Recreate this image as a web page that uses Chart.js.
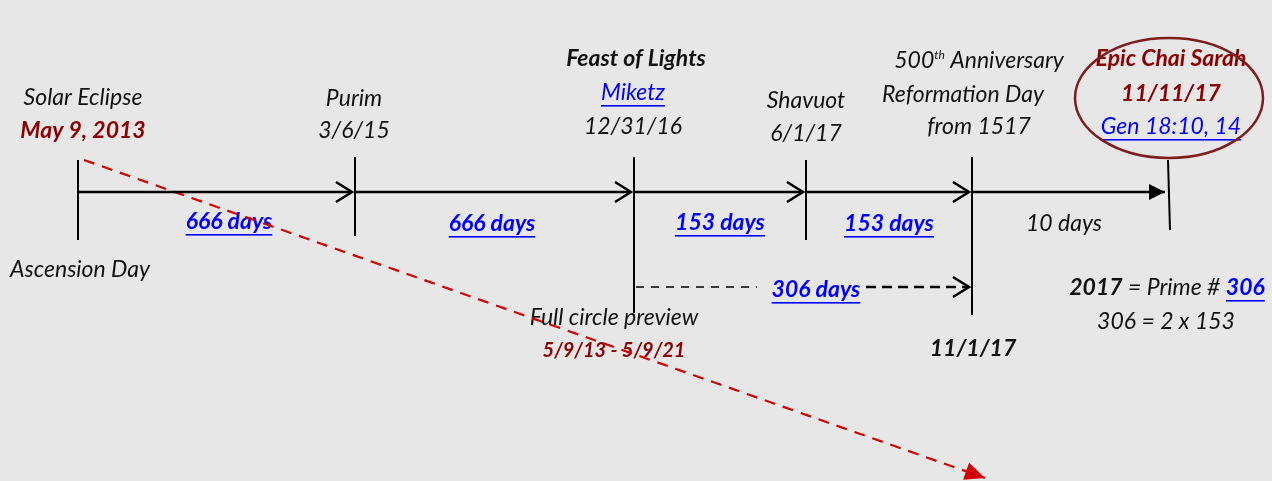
<!DOCTYPE html>
<html>
<head>
<meta charset="utf-8">
<script src="https://cdn.jsdelivr.net/npm/chart.js@4.4.1/dist/chart.umd.min.js"></script>
<style>
  html, body { margin: 0; padding: 0; background: #e7e7e7; }
  #wrap { width: 1272px; height: 481px; }
</style>
</head>
<body>
<div id="wrap"><canvas id="timeline"></canvas></div>
<script>
// events along the timeline, left to right
const eventNames = ['Ascension Day', 'Purim', 'Feast of Lights', 'Shavuot', 'Reformation Day', 'Epic Chai Sarah'];
const eventDates = ['May 9, 2013', '3/6/15', '12/31/16', '6/1/17', '11/1/17', '11/11/17'];
const eventPos = [78, 355, 634, 806, 972, 1168];
const tickTop = [160, 157, 157, 160, 157, 160];
const tickBottom = [240, 236, 313, 240, 315, 230];
const axisY = 192;

// gaps between events
const gapLabels = ['666 days', '666 days', '153 days', '153 days', '10 days'];
const gapLinked = [true, true, true, true, false];

// 12/31/16 -> 11/1/17 span
const spanLabel = '306 days';
const spanY = 287;

// eclipse path (start / end)
const eclipseFrom = {x: 84, y: 160};
const eclipseTo = {x: 985, y: 478};

const RED = '#8b0000';
const BLUE = '#0000ff';
const FONT = 'Lato, "Open Sans", sans-serif';
const SIZE = 23;

// text runs: [text, style]  n=italic, b=bold italic, r=dark red bold, l=link, L=bold link, s=superscript
const labels = [
  {x: 83, y: 98, runs: [['Solar Eclipse', 'n']]},
  {x: 83, y: 131, runs: [[eventDates[0], 'r']]},
  {x: 80, y: 270, runs: [[eventNames[0], 'n']]},
  {x: 354, y: 99, runs: [[eventNames[1], 'n']]},
  {x: 354, y: 131, runs: [[eventDates[1], 'n']]},
  {x: 636, y: 59, runs: [[eventNames[2], 'b']]},
  {x: 633, y: 93, runs: [['Miketz', 'l']]},
  {x: 633, y: 127, runs: [[eventDates[2], 'n']]},
  {x: 806, y: 101, runs: [[eventNames[3], 'n']]},
  {x: 806, y: 134, runs: [[eventDates[3], 'n']]},
  {x: 979, y: 61, runs: [['500', 'n'], ['th', 's'], [' Anniversary', 'n']]},
  {x: 963, y: 95, runs: [[eventNames[4], 'n']]},
  {x: 979, y: 127, runs: [['from 1517', 'n']]},
  {x: 973, y: 349, runs: [[eventDates[4], 'b']]},
  {x: 1171, y: 59, runs: [[eventNames[5], 'r']]},
  {x: 1171, y: 94, runs: [[eventDates[5], 'r']]},
  {x: 1171, y: 127, runs: [['Gen 18:10, 14', 'l']]},
  {x: 1167, y: 288, runs: [['2017', 'b'], [' = Prime # ', 'n'], ['306', 'L']]},
  {x: 1166, y: 322, runs: [['306 = 2 x 153', 'n']]},
  {x: 614, y: 318, runs: [['Full circle preview', 'n']]},
  {x: 614, y: 351, runs: [['5/9/13 - 5/9/21', 'r', 20]]},
  {x: 816, y: 290, runs: [[spanLabel, 'L']]}
];
const gapLabelPos = [[229, 222], [492, 224], [720, 223], [889, 224], [1064, 224]];

function runFont(style, size) {
  const bold = style === 'b' || style === 'r' || style === 'L';
  const sz = style === 's' ? 12 : (size || SIZE);
  return 'italic ' + (bold ? 'bold ' : '') + sz + 'px ' + FONT;
}
function runColor(style) {
  if (style === 'r') return RED;
  if (style === 'l' || style === 'L') return BLUE;
  return '#111';
}

function drawLabel(ctx, xs, ys, lab) {
  const cx = xs.getPixelForValue(lab.x), cy = ys.getPixelForValue(lab.y);
  let total = 0;
  lab.runs.forEach(r => { ctx.font = runFont(r[1], r[2]); total += ctx.measureText(r[0]).width; });
  let px = cx - total / 2;
  ctx.textBaseline = 'middle';
  ctx.textAlign = 'left';
  lab.runs.forEach(r => {
    ctx.font = runFont(r[1], r[2]);
    ctx.fillStyle = runColor(r[1]);
    const w = ctx.measureText(r[0]).width;
    ctx.fillText(r[0], px, r[1] === 's' ? cy - 6 : cy);
    if (r[1] === 'l' || r[1] === 'L') {
      ctx.fillRect(px, cy + 12, w, 1.6);
    }
    px += w;
  });
}

const datasets = [];
const seg = (pts, extra) => Object.assign({
  type: 'line', data: pts, borderColor: '#000', borderWidth: 2,
  pointRadius: 0, showLine: true, fill: false, tension: 0
}, extra || {});

// event ticks
eventPos.forEach((p, i) => {
  datasets.push(seg([{x: p, y: tickTop[i]}, {x: i === 5 ? p + 2 : p, y: tickBottom[i]}]));
});
// arrows between events
for (let i = 0; i < eventPos.length - 1; i++) {
  datasets.push(seg([{x: eventPos[i] + 1, y: axisY}, {x: eventPos[i + 1] - 3, y: axisY}],
    {head: i === eventPos.length - 2 ? 'filled' : 'open', borderWidth: 2.5}));
}
// 306 days dashed span
datasets.push(seg([{x: eventPos[2] + 2, y: spanY}, {x: 757, y: spanY}], {borderDash: [8, 7], borderWidth: 1.5}));
datasets.push(seg([{x: 866, y: spanY}, {x: eventPos[4] - 3, y: spanY}], {borderDash: [10, 6], borderWidth: 2.5, head: 'open'}));
// eclipse path
datasets.push(seg([eclipseFrom, eclipseTo], {borderColor: '#d40000', borderDash: [11, 8], borderWidth: 2.2, head: 'filled', headSize: [20, 9]}));

const annotate = {
  id: 'annotate',
  beforeDatasetsDraw(chart) {
    const {ctx, scales: {x, y}} = chart;
    ctx.save();
    labels.forEach(l => drawLabel(ctx, x, y, l));
    gapLabels.forEach((g, i) => {
      drawLabel(ctx, x, y, {x: gapLabelPos[i][0], y: gapLabelPos[i][1], runs: [[g, gapLinked[i] ? 'L' : 'n']]});
    });
    ctx.restore();
  },
  afterDatasetsDraw(chart) {
    const {ctx, scales: {x, y}} = chart;
    chart.data.datasets.forEach(ds => {
      if (!ds.head) return;
      const a = ds.data[ds.data.length - 2], b = ds.data[ds.data.length - 1];
      const x1 = x.getPixelForValue(a.x), y1 = y.getPixelForValue(a.y);
      const x2 = x.getPixelForValue(b.x), y2 = y.getPixelForValue(b.y);
      const size = ds.headSize || (ds.head === 'filled' ? [16, 8] : [16, 10]);
      ctx.save();
      ctx.translate(x2, y2);
      ctx.rotate(Math.atan2(y2 - y1, x2 - x1));
      ctx.beginPath();
      ctx.moveTo(-size[0], -size[1]);
      ctx.lineTo(0, 0);
      ctx.lineTo(-size[0], size[1]);
      if (ds.head === 'filled') {
        ctx.closePath();
        ctx.fillStyle = ds.borderColor;
        ctx.fill();
      } else {
        ctx.setLineDash([]);
        ctx.lineWidth = 2.5;
        ctx.strokeStyle = ds.borderColor;
        ctx.stroke();
      }
      ctx.restore();
    });
    // circle round the last event
    ctx.save();
    ctx.beginPath();
    ctx.ellipse(x.getPixelForValue(1169), y.getPixelForValue(98), 94, 60, 0, 0, Math.PI * 2);
    ctx.lineWidth = 2.5;
    ctx.strokeStyle = '#7f1d1d';
    ctx.stroke();
    ctx.restore();
  }
};

new Chart(document.getElementById('timeline'), {
  type: 'scatter',
  data: {datasets},
  options: {
    responsive: true,
    maintainAspectRatio: false,
    animation: false,
    layout: {padding: 0},
    plugins: {legend: {display: false}, tooltip: {enabled: false}},
    scales: {
      x: {type: 'linear', min: 0, max: 1272, display: false},
      y: {type: 'linear', min: 0, max: 481, reverse: true, display: false}
    }
  },
  plugins: [annotate]
});
</script>
</body>
</html>
